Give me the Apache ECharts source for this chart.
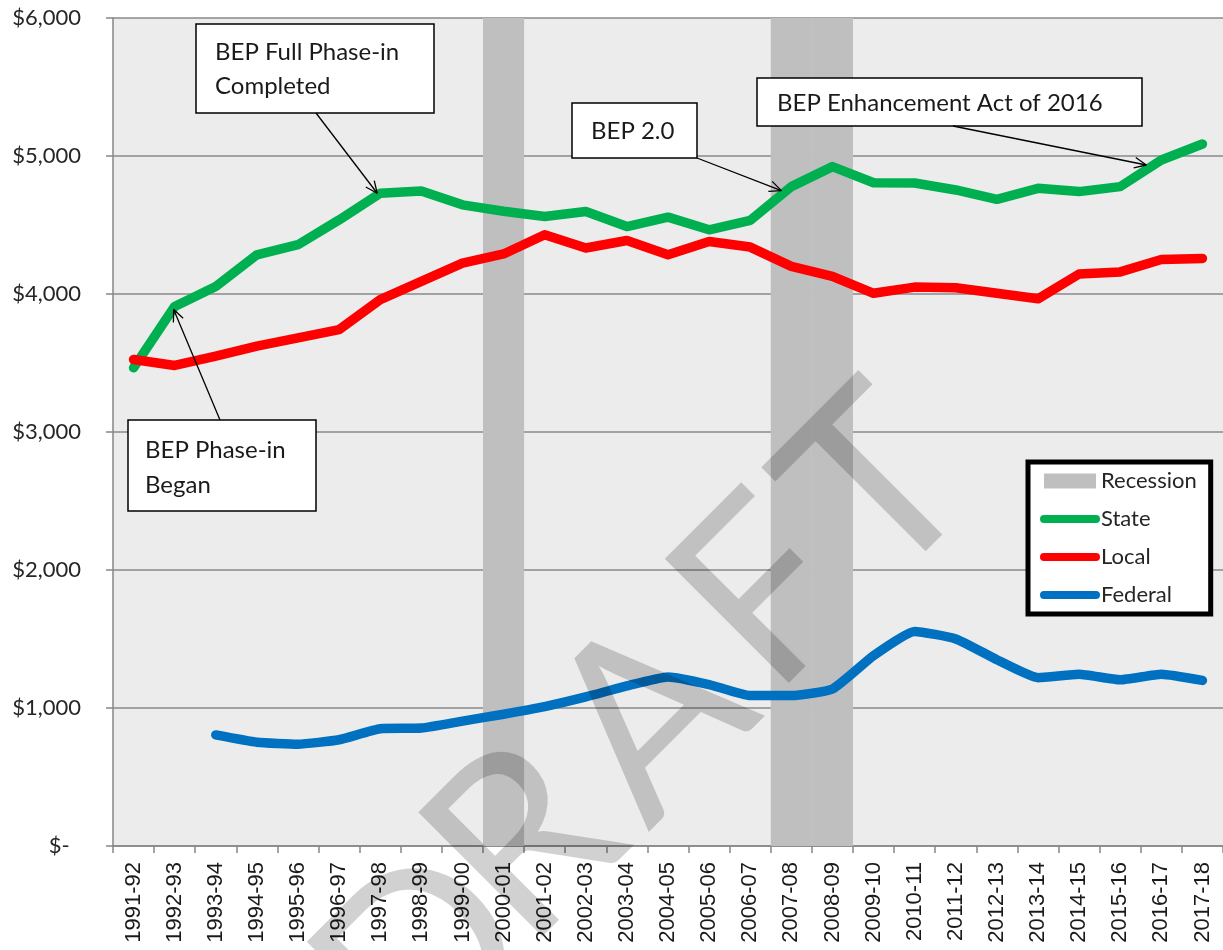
<!DOCTYPE html>
<html>
<head>
<meta charset="utf-8">
<script src="https://cdn.jsdelivr.net/npm/echarts@6/dist/echarts.min.js"></script>
<style>html,body{margin:0;padding:0;background:#fff}#c{width:1223px;height:950px}</style>
</head>
<body>
<div id="c"></div>
<script>
const categories = ['1991-92','1992-93','1993-94','1994-95','1995-96','1996-97','1997-98','1998-99','1999-00','2000-01','2001-02','2002-03','2003-04','2004-05','2005-06','2006-07','2007-08','2008-09','2009-10','2010-11','2011-12','2012-13','2013-14','2014-15','2015-16','2016-17','2017-18'];
const stateValues = [3465,3910,4055,4284,4357,4537,4730,4747,4646,4600,4561,4598,4489,4557,4465,4533,4778,4923,4806,4804,4754,4686,4766,4742,4778,4971,5087];
const localValues = [3525,3482,3549,3622,3682,3742,3959,4092,4224,4290,4429,4333,4388,4284,4381,4340,4200,4128,4005,4050,4045,4005,3965,4145,4160,4250,4258];
const federalValues = [null,null,805,752,738,770,850,855,905,955,1010,1080,1160,1225,1170,1090,1090,1138,1380,1555,1500,1350,1220,1245,1205,1245,1200];
const recessionYears = ['2000-01','2007-08','2008-09'];
const recessionTop = 6000;
const yTickValues = [0,1000,2000,3000,4000,5000,6000];
const annotationTexts = [['BEP Full Phase-in','Completed'],['BEP Phase-in','Began'],['BEP 2.0'],['BEP Enhancement Act of 2016']];
const annotationTargets = ['1997-98','1992-93','2007-08','2016-17'];
const watermarkLetters = ['D','R','A','F','T'];

const recessionData = categories.map(c => recessionYears.includes(c) ? recessionTop : '-');
const toSeries = arr => arr.map(v => v == null ? '-' : v);

const chart = echarts.init(document.getElementById('c'), null, {renderer: 'canvas'});
const option = {
  animation: false,
  backgroundColor: '#ffffff',
  grid: {left: 113, top: 18, width: 1112, height: 828, show: true, backgroundColor: '#ececec', borderWidth: 0},
  xAxis: {
    type: 'category', data: categories, boundaryGap: true,
    axisLine: {show: true, lineStyle: {color: '#868686', width: 1.5}},
    axisTick: {show: true, interval: 0, length: 7, lineStyle: {color: '#868686', width: 1.5}},
    axisLabel: {interval: 0, rotate: 90, margin: 16, fontFamily: 'Liberation Sans', fontSize: 22, color: '#1a1a1a'},
    splitLine: {show: false}
  },
  yAxis: {
    type: 'value', min: yTickValues[0], max: yTickValues[yTickValues.length-1], interval: 1000,
    axisLine: {show: true, lineStyle: {color: '#868686', width: 1.5}},
    axisTick: {show: true, length: 7, lineStyle: {color: '#868686', width: 1.5}},
    axisLabel: {margin: 32, fontFamily: 'Lato', fontSize: 22, color: '#262626',
      formatter: v => v === 0 ? '$-  ' : '$' + v.toLocaleString('en-US')},
    splitLine: {show: true, lineStyle: {color: '#8a8a8a', width: 1.5}}
  },
  legend: {
    orient: 'vertical', left: 1028, top: 462, selectedMode: false,
    backgroundColor: '#ffffff', borderColor: '#000000', borderWidth: 5,
    padding: [7, 14, 7, 12], itemWidth: 52, itemHeight: 15, itemGap: 14,
    textStyle: {fontFamily: 'Lato', fontSize: 22, color: '#262626', lineHeight: 24},
    data: [
      {name: 'Recession', icon: 'rect'},
      {name: 'State', itemStyle: {opacity: 0}, lineStyle: {width: 8, cap: 'round'}},
      {name: 'Local', itemStyle: {opacity: 0}, lineStyle: {width: 8, cap: 'round'}},
      {name: 'Federal', itemStyle: {opacity: 0}, lineStyle: {width: 8, cap: 'round'}}
    ]
  },
  series: [
    {name: 'Recession', type: 'bar', data: recessionData, barWidth: '100%', barCategoryGap: 0,
      itemStyle: {color: '#bfbfbf'}, z: 1, silent: true},
    {name: 'State', type: 'line', data: toSeries(stateValues), symbol: 'none', color: '#00b050',
      lineStyle: {width: 9.5, color: '#00b050', cap: 'round', join: 'round'}, z: 3},
    {name: 'Local', type: 'line', data: toSeries(localValues), symbol: 'none', color: '#ff0000',
      lineStyle: {width: 9.5, color: '#ff0000', cap: 'round', join: 'round'}, z: 4},
    {name: 'Federal', type: 'line', data: toSeries(federalValues), symbol: 'none', color: '#0070c0', smooth: 0.15,
      lineStyle: {width: 9.5, color: '#0070c0', cap: 'round', join: 'round'}, z: 5}
  ]
};
chart.setOption(option);

// annotation layout (pixels for boxes; arrow tips from data via the axes)
const boxes = [
  {x: 196, y: 24, w: 238, h: 89, tx: 215, lines: [52, 86], from: [316, 113], tipOff: [-3, 0]},
  {x: 128, y: 420, w: 188, h: 91, tx: 145, lines: [450, 485], from: [220, 420], tipOff: [-1, 3]},
  {x: 572, y: 103, w: 125, h: 55, tx: 591, lines: [131], from: [697, 158], tipOff: [-10, 4]},
  {x: 757, y: 78, w: 385, h: 48, tx: 777, lines: [103], from: [953, 126], tipOff: [-15, 5]}
];
const graphics = [];
boxes.forEach((b, k) => {
  const idx = categories.indexOf(annotationTargets[k]);
  const p = chart.convertToPixel({seriesIndex: 1}, [idx, stateValues[idx]]);
  const tip = [p[0] + b.tipOff[0], p[1] + b.tipOff[1]];
  graphics.push({type: 'rect', z: 50, shape: {x: b.x, y: b.y, width: b.w, height: b.h},
    style: {fill: '#ffffff', stroke: '#000000', lineWidth: 1.5}});
  annotationTexts[k].forEach((t, j) => {
    graphics.push({type: 'text', z: 51, x: b.tx, y: b.lines[j],
      style: {text: t, fontFamily: 'Lato', fontSize: 24, fill: '#1a1a1a', align: 'left', verticalAlign: 'middle'}});
  });
  graphics.push({type: 'line', z: 52, shape: {x1: b.from[0], y1: b.from[1], x2: tip[0], y2: tip[1]},
    style: {stroke: '#000000', lineWidth: 1.3}});
  const ang = Math.atan2(tip[1] - b.from[1], tip[0] - b.from[0]);
  [0.42, -0.42].forEach(d => {
    graphics.push({type: 'line', z: 52, shape: {x1: tip[0], y1: tip[1],
      x2: tip[0] - 13 * Math.cos(ang + d), y2: tip[1] - 13 * Math.sin(ang + d)},
      style: {stroke: '#000000', lineWidth: 1.3}});
  });
});
// DRAFT watermark
const wmCenters = [[425, 960], [525, 842], [651, 718], [766, 594], [878, 487]];
watermarkLetters.forEach((ch, k) => {
  graphics.push({type: 'text', z: 100, silent: true, x: wmCenters[k][0], y: wmCenters[k][1], rotation: Math.PI / 4,
    style: {text: ch, fontFamily: 'Lato', fontSize: 245, fill: 'rgba(0,0,0,0.18)', align: 'center', verticalAlign: 'middle'}});
});
chart.setOption({graphic: graphics});
</script>
</body>
</html>
